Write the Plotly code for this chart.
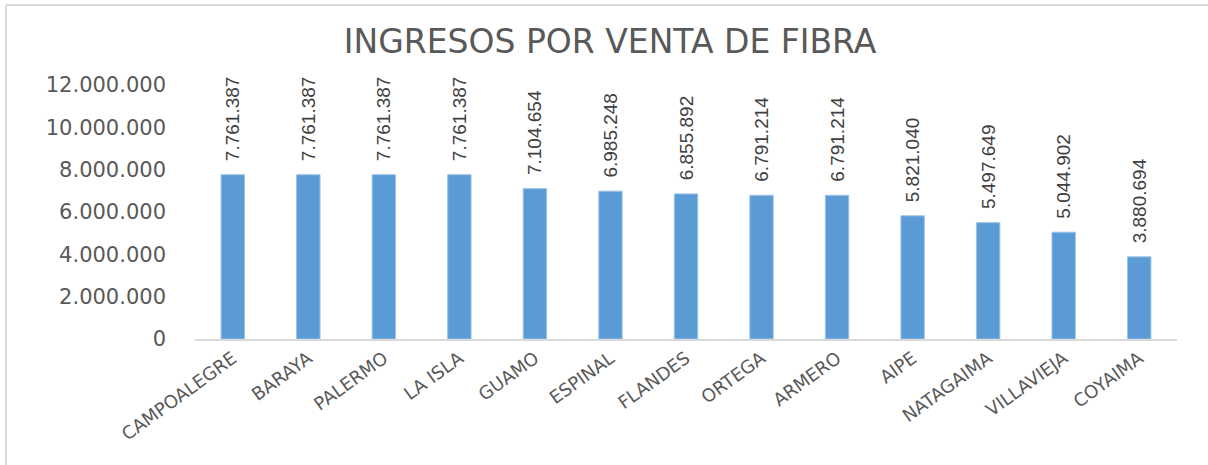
import plotly.graph_objects as go

categories = ["CAMPOALEGRE", "BARAYA", "PALERMO", "LA ISLA", "GUAMO", "ESPINAL",
              "FLANDES", "ORTEGA", "ARMERO", "AIPE", "NATAGAIMA", "VILLAVIEJA", "COYAIMA"]
values = [7761387, 7761387, 7761387, 7761387, 7104654, 6985248,
          6855892, 6791214, 6791214, 5821040, 5497649, 5044902, 3880694]
y_ticks = [0, 2000000, 4000000, 6000000, 8000000, 10000000, 12000000]

fig = go.Figure(go.Bar(
    x=categories, y=values,
    marker=dict(color="#5B9BD5", line=dict(color="#9DC3E6", width=1)),
    texttemplate="\u00a0\u00a0%{y:,d}", textposition="outside", textangle=-90,
    constraintext="none",
    textfont=dict(family="Liberation Sans, Arial, sans-serif", size=19, color="#404040"),
    cliponaxis=False,
))

fig.update_layout(
    width=1208, height=465,
    separators=",.",
    paper_bgcolor="white", plot_bgcolor="white",
    margin=dict(l=195, r=31, t=85, b=126),
    bargap=0.69,
    showlegend=False,
    title=dict(text="INGRESOS POR VENTA DE FIBRA", x=0.505, xanchor="center",
               y=0.91, yanchor="middle",
               font=dict(family="DejaVu Sans, sans-serif", size=33, color="#595959")),
    xaxis=dict(tickangle=-36, showline=True, linecolor="#d9d9d9", linewidth=2,
               ticks="", tickfont=dict(family="DejaVu Sans, sans-serif", size=18, color="#595959")),
    yaxis=dict(range=[0, 12000000], tickvals=y_ticks, tickformat=",d", showgrid=False,
               zeroline=False, showline=False, ticks="", ticklabelstandoff=28,
               tickfont=dict(family="DejaVu Sans, sans-serif", size=21, color="#595959")),
    shapes=[
        dict(type="line", xref="paper", yref="paper",
             x0=(6 - 195) / 982, x1=(1208 - 195) / 982,
             y0=(339 - 5) / 254, y1=(339 - 5) / 254,
             line=dict(color="#d9d9d9", width=2)),
        dict(type="line", xref="paper", yref="paper",
             x0=(6 - 195) / 982, x1=(6 - 195) / 982,
             y0=-(465 - 339) / 254, y1=(339 - 5) / 254,
             line=dict(color="#d9d9d9", width=2)),
    ],
)

fig.write_html("out.html", config={"displayModeBar": False},
               post_script="document.body.style.margin='0';document.body.style.overflow='hidden';")
